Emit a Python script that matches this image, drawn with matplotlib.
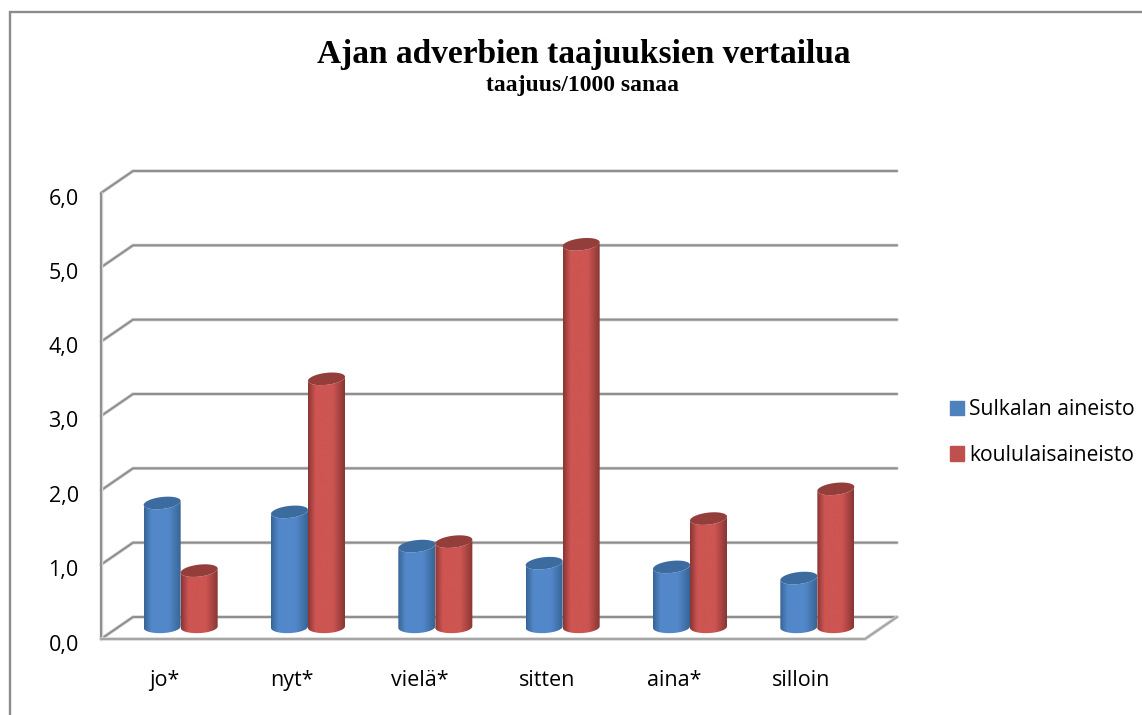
import numpy as np
import matplotlib
matplotlib.use("Agg")
import matplotlib.pyplot as plt
import matplotlib.patheffects as pe
from matplotlib.colors import LinearSegmentedColormap
from matplotlib.patches import Patch, Polygon, Rectangle
from matplotlib.transforms import ScaledTranslation

categories = ["jo*", "nyt*", "vielä*", "sitten", "aina*", "silloin"]
sulkala = [1.67, 1.55, 1.09, 0.86, 0.81, 0.66]
koululainen = [0.76, 3.34, 1.15, 5.15, 1.46, 1.86]
series_names = ["Sulkalan aineisto", "koululaisaineisto"]
y_ticks = [0, 1, 2, 3, 4, 5, 6]
y_labels = ["0,0", "1,0", "2,0", "3,0", "4,0", "5,0", "6,0"]
title = "Ajan adverbien taajuuksien vertailua"
subtitle = "taajuus/1000 sanaa"

W, H = 1142, 715
fig = plt.figure(figsize=(W / 100, H / 100), dpi=100, facecolor="white")
fig.add_artist(Rectangle((9.5 / W, -0.01), (W + 10) / W, 1.01 - 11.5 / H, transform=fig.transFigure,
                         fc="white", ec="#8c8c8c", lw=1.7, zorder=-1))

L, R, T, B = 101, 865, 193, 639
ax = fig.add_axes([L / W, 1 - B / H, (R - L) / W, (B - T) / H])
ax.patch.set_alpha(0)
for s in ax.spines.values():
    s.set_visible(False)
ux = (R - L) / 6
uy = (B - T) / 6
dx, dy = 32 / ux, 22 / uy
GRID = "#8f8f8f"
glow = [pe.Stroke(linewidth=2.5, foreground="#d8d8d8"), pe.Normal()]

def wall(xs, ys, color=GRID):
    ax.plot(xs, ys, color=color, lw=1.5, clip_on=False, solid_capstyle="round", zorder=1, path_effects=glow)

for v in y_ticks:
    wall([0, dx, 6 + dx], [v, v + dy, v + dy])
wall([0, 0], [0, 6])
wall([0, 6, 6 + dx], [0, 0, dy], color="#a6a6a6")

def shade(c_edge, c_mid):
    return LinearSegmentedColormap.from_list("c", [(0, c_edge), (0.2, c_mid), (0.68, c_mid), (1, c_edge)])

STYLES = [(shade("#376495", "#5288c9"), "#3c6c9f"), (shade("#883634", "#cd5552"), "#943e3c")]
bw = 37 / ux
rx, ry = bw / 2, 6.0 / uy
tilt = 2.0 / uy
base = 0.16
shift = 16 / ux
grad = np.linspace(0, 1, 128)[None, :]

def cylinder(cx, v, cmap, top):
    t = np.linspace(np.pi, 2 * np.pi, 40)
    xb = cx + rx * np.cos(t)
    yb = base + ry * np.sin(t) + 0.4 * tilt * np.cos(t)
    t2 = t[::-1]
    xt = cx + rx * np.cos(t2)
    yt = base + v + ry * np.sin(t2) + tilt * np.cos(t2)
    body = Polygon(np.column_stack([np.r_[xb, xt], np.r_[yb, yt]]), transform=ax.transData, fc="none", ec="none")
    ax.add_patch(body)
    im = ax.imshow(grad, cmap=cmap, extent=[cx - rx, cx + rx, 0, base + v + ry + tilt], aspect="auto", zorder=3)
    im.set_clip_path(body)
    t3 = np.linspace(0, 2 * np.pi, 80)
    ax.fill(cx + rx * np.cos(t3), base + v + ry * np.sin(t3) + tilt * np.cos(t3), color=top, lw=0, zorder=3)

for i in range(len(categories)):
    cx = i + 0.5 + shift
    cylinder(cx - bw / 2, sulkala[i], *STYLES[0])
    cylinder(cx + bw / 2, koululainen[i], *STYLES[1])

ax.set_xlim(0, 6)
ax.set_ylim(0, 6)
ax.set_xticks(np.arange(6) + 0.5, categories)
ax.set_yticks(y_ticks, y_labels)
ax.tick_params(length=0, labelsize=15.5, colors="black")
ax.tick_params(axis="x", pad=22)
ax.tick_params(axis="y", pad=16)
down = ScaledTranslation(0, -3.5 / 100, fig.dpi_scale_trans)
for t in ax.get_xticklabels() + ax.get_yticklabels():
    t.set_fontfamily("Open Sans")
for t in ax.get_yticklabels():
    t.set_transform(t.get_transform() + down)

fig.text(584 / W, 1 - 63 / H, title, family="Liberation Serif", weight="bold", size=24, ha="center", va="baseline")
fig.text(583 / W, 1 - 91.5 / H, subtitle, family="Liberation Serif", weight="bold", size=17, ha="center", va="baseline")

handles = [Patch(color="#4F81BD"), Patch(color="#C0504D")]
fig.legend(handles, series_names, loc="upper left", bbox_to_anchor=(950 / W, 1 - 399 / H), frameon=False,
           prop={"family": "Open Sans", "size": 15.2}, handlelength=0.65, handleheight=0.65, handletextpad=0.25,
           labelspacing=1.18, borderpad=0, borderaxespad=0)
fig.savefig("out.png", dpi=100)
